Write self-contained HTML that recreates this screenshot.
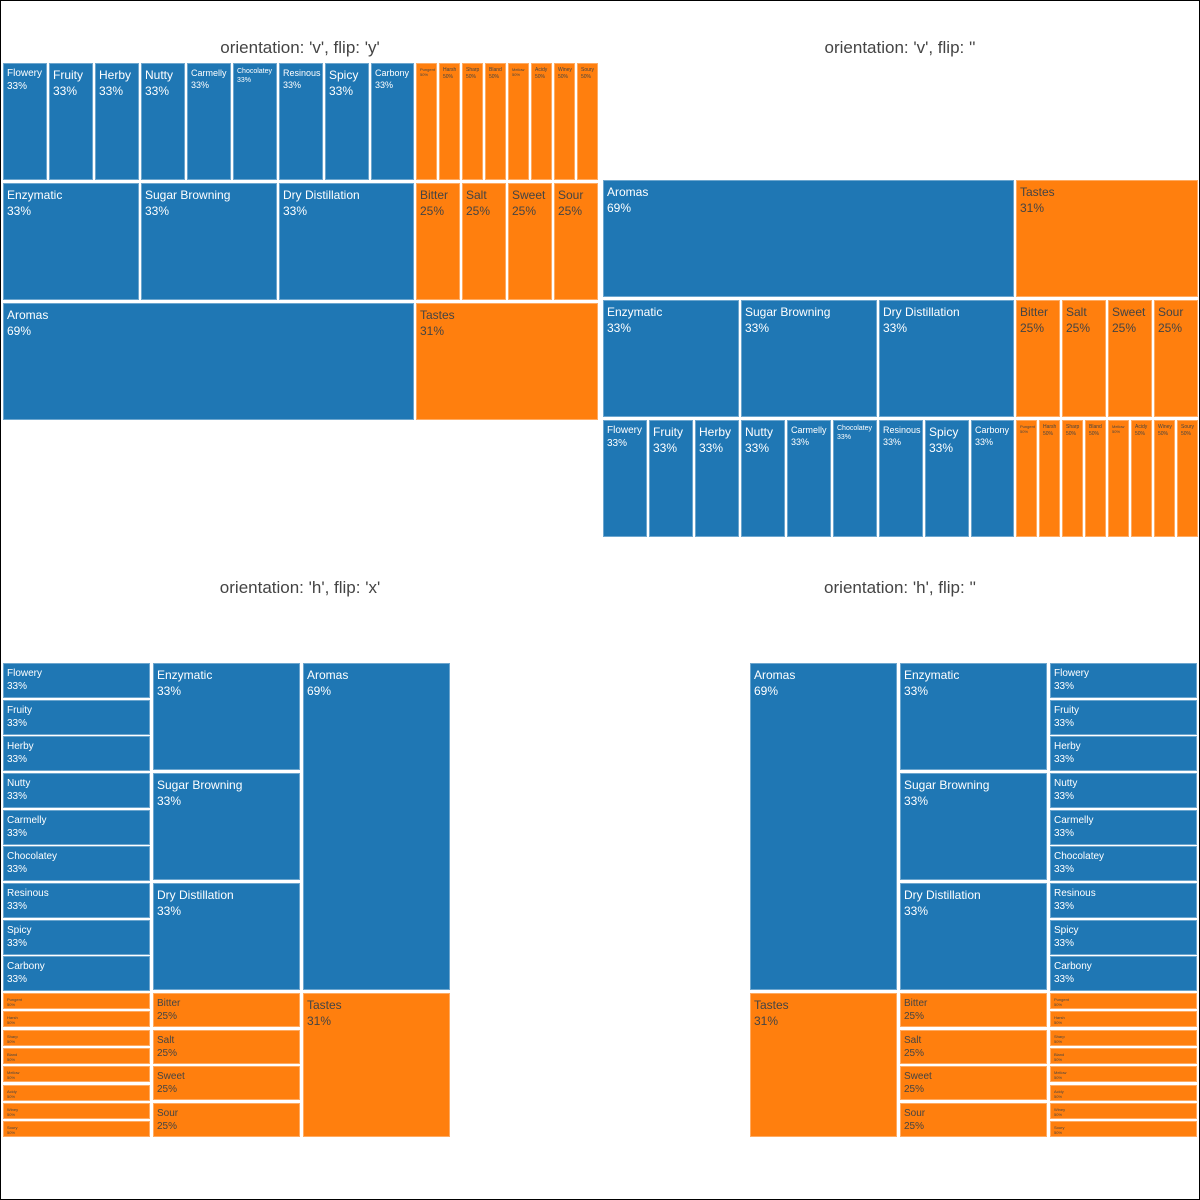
<!DOCTYPE html>
<html><head><meta charset="utf-8"><style>
body{margin:0;background:#fff}
#w{position:relative;width:1198px;height:1198px;border:1px solid #000;overflow:hidden;font-family:"Liberation Sans","DejaVu Sans",sans-serif}
.t{position:absolute;width:600px;text-align:center;font-size:17px;color:#444}
.c{position:absolute;box-sizing:border-box;padding:3px 0 0 3px;font-size:12px;line-height:16px;overflow:hidden;white-space:nowrap;border:1px solid rgba(255,255,255,.35)}
.b{background:#1f77b4;color:#fff}
.o{background:#ff7f0e;color:#444}
.s10{font-size:10px;line-height:13px}
.s9{font-size:9px;line-height:12px}
.s7{font-size:7px;line-height:9px}
.s5{font-size:5px;line-height:7px}
.s4{font-size:4px;line-height:5px}
</style></head><body><div id="w">
<div class="t" style="left:-1px;top:37px">orientation: 'v', flip: 'y'</div>
<div class="t" style="left:599px;top:37px">orientation: 'v', flip: ''</div>
<div class="t" style="left:-1px;top:577px">orientation: 'h', flip: 'x'</div>
<div class="t" style="left:599px;top:577px">orientation: 'h', flip: ''</div>

<!-- Panel 1 -->
<div class="c b s10" style="left:2px;top:62px;width:44px;height:117px">Flowery<br>33%</div>
<div class="c b" style="left:48px;top:62px;width:44px;height:117px">Fruity<br>33%</div>
<div class="c b" style="left:94px;top:62px;width:44px;height:117px">Herby<br>33%</div>
<div class="c b" style="left:140px;top:62px;width:44px;height:117px">Nutty<br>33%</div>
<div class="c b s9" style="left:186px;top:62px;width:44px;height:117px">Carmelly<br>33%</div>
<div class="c b s7" style="left:232px;top:62px;width:44px;height:117px">Chocolatey<br>33%</div>
<div class="c b s9" style="left:278px;top:62px;width:44px;height:117px">Resinous<br>33%</div>
<div class="c b" style="left:324px;top:62px;width:44px;height:117px">Spicy<br>33%</div>
<div class="c b s9" style="left:370px;top:62px;width:43px;height:117px">Carbony<br>33%</div>
<div class="c o s4" style="left:415px;top:62px;width:21px;height:117px">Pungent<br>50%</div>
<div class="c o s5" style="left:438px;top:62px;width:21px;height:117px">Harsh<br>50%</div>
<div class="c o s5" style="left:461px;top:62px;width:21px;height:117px">Sharp<br>50%</div>
<div class="c o s5" style="left:484px;top:62px;width:21px;height:117px">Bland<br>50%</div>
<div class="c o s4" style="left:507px;top:62px;width:21px;height:117px">Mellow<br>50%</div>
<div class="c o s5" style="left:530px;top:62px;width:21px;height:117px">Acidy<br>50%</div>
<div class="c o s5" style="left:553px;top:62px;width:21px;height:117px">Winey<br>50%</div>
<div class="c o s5" style="left:576px;top:62px;width:21px;height:117px">Soury<br>50%</div>
<div class="c b" style="left:2px;top:182px;width:136px;height:117px">Enzymatic<br>33%</div>
<div class="c b" style="left:140px;top:182px;width:136px;height:117px">Sugar Browning<br>33%</div>
<div class="c b" style="left:278px;top:182px;width:135px;height:117px">Dry Distillation<br>33%</div>
<div class="c o" style="left:415px;top:182px;width:44px;height:117px">Bitter<br>25%</div>
<div class="c o" style="left:461px;top:182px;width:44px;height:117px">Salt<br>25%</div>
<div class="c o" style="left:507px;top:182px;width:44px;height:117px">Sweet<br>25%</div>
<div class="c o" style="left:553px;top:182px;width:44px;height:117px">Sour<br>25%</div>
<div class="c b" style="left:2px;top:302px;width:411px;height:117px">Aromas<br>69%</div>
<div class="c o" style="left:415px;top:302px;width:182px;height:117px">Tastes<br>31%</div>

<!-- Panel 2 -->
<div class="c b" style="left:602px;top:179px;width:411px;height:117px">Aromas<br>69%</div>
<div class="c o" style="left:1015px;top:179px;width:182px;height:117px">Tastes<br>31%</div>
<div class="c b" style="left:602px;top:299px;width:136px;height:117px">Enzymatic<br>33%</div>
<div class="c b" style="left:740px;top:299px;width:136px;height:117px">Sugar Browning<br>33%</div>
<div class="c b" style="left:878px;top:299px;width:135px;height:117px">Dry Distillation<br>33%</div>
<div class="c o" style="left:1015px;top:299px;width:44px;height:117px">Bitter<br>25%</div>
<div class="c o" style="left:1061px;top:299px;width:44px;height:117px">Salt<br>25%</div>
<div class="c o" style="left:1107px;top:299px;width:44px;height:117px">Sweet<br>25%</div>
<div class="c o" style="left:1153px;top:299px;width:44px;height:117px">Sour<br>25%</div>
<div class="c b s10" style="left:602px;top:419px;width:44px;height:117px">Flowery<br>33%</div>
<div class="c b" style="left:648px;top:419px;width:44px;height:117px">Fruity<br>33%</div>
<div class="c b" style="left:694px;top:419px;width:44px;height:117px">Herby<br>33%</div>
<div class="c b" style="left:740px;top:419px;width:44px;height:117px">Nutty<br>33%</div>
<div class="c b s9" style="left:786px;top:419px;width:44px;height:117px">Carmelly<br>33%</div>
<div class="c b s7" style="left:832px;top:419px;width:44px;height:117px">Chocolatey<br>33%</div>
<div class="c b s9" style="left:878px;top:419px;width:44px;height:117px">Resinous<br>33%</div>
<div class="c b" style="left:924px;top:419px;width:44px;height:117px">Spicy<br>33%</div>
<div class="c b s9" style="left:970px;top:419px;width:43px;height:117px">Carbony<br>33%</div>
<div class="c o s4" style="left:1015px;top:419px;width:21px;height:117px">Pungent<br>50%</div>
<div class="c o s5" style="left:1038px;top:419px;width:21px;height:117px">Harsh<br>50%</div>
<div class="c o s5" style="left:1061px;top:419px;width:21px;height:117px">Sharp<br>50%</div>
<div class="c o s5" style="left:1084px;top:419px;width:21px;height:117px">Bland<br>50%</div>
<div class="c o s4" style="left:1107px;top:419px;width:21px;height:117px">Mellow<br>50%</div>
<div class="c o s5" style="left:1130px;top:419px;width:21px;height:117px">Acidy<br>50%</div>
<div class="c o s5" style="left:1153px;top:419px;width:21px;height:117px">Winey<br>50%</div>
<div class="c o s5" style="left:1176px;top:419px;width:21px;height:117px">Soury<br>50%</div>

<!-- Panel 3 -->
<div class="c b s10" style="left:2px;top:662px;width:147px;height:35px">Flowery<br>33%</div>
<div class="c b s10" style="left:2px;top:699px;width:147px;height:35px">Fruity<br>33%</div>
<div class="c b s10" style="left:2px;top:735px;width:147px;height:35px">Herby<br>33%</div>
<div class="c b s10" style="left:2px;top:772px;width:147px;height:35px">Nutty<br>33%</div>
<div class="c b s10" style="left:2px;top:809px;width:147px;height:35px">Carmelly<br>33%</div>
<div class="c b s10" style="left:2px;top:845px;width:147px;height:35px">Chocolatey<br>33%</div>
<div class="c b s10" style="left:2px;top:882px;width:147px;height:35px">Resinous<br>33%</div>
<div class="c b s10" style="left:2px;top:919px;width:147px;height:35px">Spicy<br>33%</div>
<div class="c b s10" style="left:2px;top:955px;width:147px;height:35px">Carbony<br>33%</div>
<div class="c o s4" style="left:2px;top:992px;width:147px;height:16px">Pungent<br>50%</div>
<div class="c o s4" style="left:2px;top:1010px;width:147px;height:16px">Harsh<br>50%</div>
<div class="c o s4" style="left:2px;top:1029px;width:147px;height:16px">Sharp<br>50%</div>
<div class="c o s4" style="left:2px;top:1047px;width:147px;height:16px">Bland<br>50%</div>
<div class="c o s4" style="left:2px;top:1065px;width:147px;height:16px">Mellow<br>50%</div>
<div class="c o s4" style="left:2px;top:1084px;width:147px;height:16px">Acidy<br>50%</div>
<div class="c o s4" style="left:2px;top:1102px;width:147px;height:16px">Winey<br>50%</div>
<div class="c o s4" style="left:2px;top:1120px;width:147px;height:16px">Soury<br>50%</div>
<div class="c b" style="left:152px;top:662px;width:147px;height:107px">Enzymatic<br>33%</div>
<div class="c b" style="left:152px;top:772px;width:147px;height:107px">Sugar Browning<br>33%</div>
<div class="c b" style="left:152px;top:882px;width:147px;height:107px">Dry Distillation<br>33%</div>
<div class="c o s10" style="left:152px;top:992px;width:147px;height:34px">Bitter<br>25%</div>
<div class="c o s10" style="left:152px;top:1029px;width:147px;height:34px">Salt<br>25%</div>
<div class="c o s10" style="left:152px;top:1065px;width:147px;height:34px">Sweet<br>25%</div>
<div class="c o s10" style="left:152px;top:1102px;width:147px;height:34px">Sour<br>25%</div>
<div class="c b" style="left:302px;top:662px;width:147px;height:327px">Aromas<br>69%</div>
<div class="c o" style="left:302px;top:992px;width:147px;height:144px">Tastes<br>31%</div>

<!-- Panel 4 -->
<div class="c b" style="left:749px;top:662px;width:147px;height:327px">Aromas<br>69%</div>
<div class="c o" style="left:749px;top:992px;width:147px;height:144px">Tastes<br>31%</div>
<div class="c b" style="left:899px;top:662px;width:147px;height:107px">Enzymatic<br>33%</div>
<div class="c b" style="left:899px;top:772px;width:147px;height:107px">Sugar Browning<br>33%</div>
<div class="c b" style="left:899px;top:882px;width:147px;height:107px">Dry Distillation<br>33%</div>
<div class="c o s10" style="left:899px;top:992px;width:147px;height:34px">Bitter<br>25%</div>
<div class="c o s10" style="left:899px;top:1029px;width:147px;height:34px">Salt<br>25%</div>
<div class="c o s10" style="left:899px;top:1065px;width:147px;height:34px">Sweet<br>25%</div>
<div class="c o s10" style="left:899px;top:1102px;width:147px;height:34px">Sour<br>25%</div>
<div class="c b s10" style="left:1049px;top:662px;width:147px;height:35px">Flowery<br>33%</div>
<div class="c b s10" style="left:1049px;top:699px;width:147px;height:35px">Fruity<br>33%</div>
<div class="c b s10" style="left:1049px;top:735px;width:147px;height:35px">Herby<br>33%</div>
<div class="c b s10" style="left:1049px;top:772px;width:147px;height:35px">Nutty<br>33%</div>
<div class="c b s10" style="left:1049px;top:809px;width:147px;height:35px">Carmelly<br>33%</div>
<div class="c b s10" style="left:1049px;top:845px;width:147px;height:35px">Chocolatey<br>33%</div>
<div class="c b s10" style="left:1049px;top:882px;width:147px;height:35px">Resinous<br>33%</div>
<div class="c b s10" style="left:1049px;top:919px;width:147px;height:35px">Spicy<br>33%</div>
<div class="c b s10" style="left:1049px;top:955px;width:147px;height:35px">Carbony<br>33%</div>
<div class="c o s4" style="left:1049px;top:992px;width:147px;height:16px">Pungent<br>50%</div>
<div class="c o s4" style="left:1049px;top:1010px;width:147px;height:16px">Harsh<br>50%</div>
<div class="c o s4" style="left:1049px;top:1029px;width:147px;height:16px">Sharp<br>50%</div>
<div class="c o s4" style="left:1049px;top:1047px;width:147px;height:16px">Bland<br>50%</div>
<div class="c o s4" style="left:1049px;top:1065px;width:147px;height:16px">Mellow<br>50%</div>
<div class="c o s4" style="left:1049px;top:1084px;width:147px;height:16px">Acidy<br>50%</div>
<div class="c o s4" style="left:1049px;top:1102px;width:147px;height:16px">Winey<br>50%</div>
<div class="c o s4" style="left:1049px;top:1120px;width:147px;height:16px">Soury<br>50%</div>
</div></body></html>
